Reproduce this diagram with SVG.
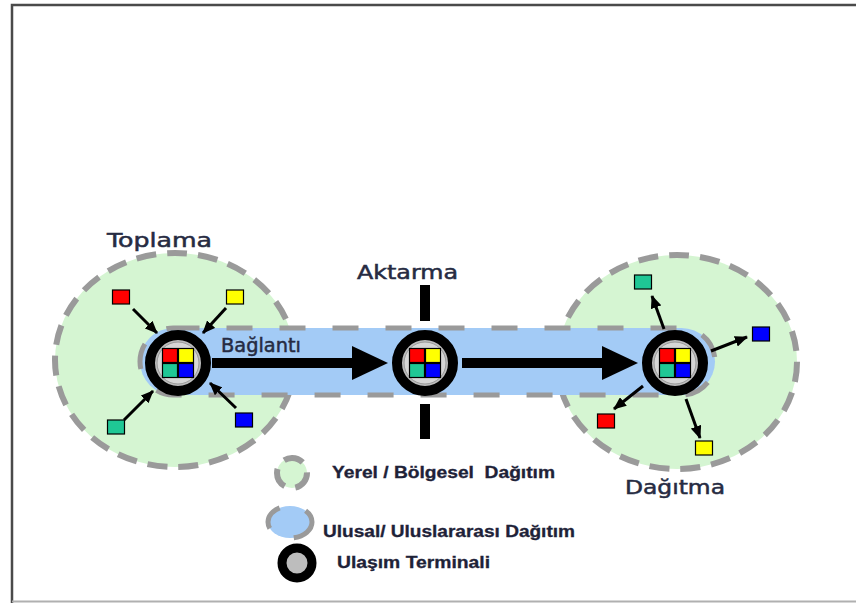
<svg xmlns="http://www.w3.org/2000/svg" width="856" height="603" viewBox="0 0 856 603">
<defs>
<style>
.zone{fill:#d5f5d2;stroke:#9a9a9a;stroke-width:6;stroke-dasharray:20 11}
.band{fill:#a3cbf6;stroke:#9a9a9a;stroke-width:5;stroke-dasharray:26 27}
.ring{fill:#bdbdbd;stroke:#000;stroke-width:10}
.sq{stroke:#000;stroke-width:1.2}
.r{fill:#ff0000}.y{fill:#ffff00}.t{fill:#1fc795}.b{fill:#0000ff}
.big{stroke:#000;stroke-width:10;fill:none;marker-end:url(#bigHead)}
.small{stroke:#000;stroke-width:3;fill:none;marker-end:url(#smallHead)}
.lbl{font-family:"DejaVu Sans",sans-serif;font-size:19px;fill:#262b42;stroke:#262b42;stroke-width:0.5}
.leg{font-family:"Liberation Sans",Arial,sans-serif;font-size:16px;font-weight:bold;fill:#1e2238;stroke:#1e2238;stroke-width:0.3}
</style>
<marker id="bigHead" viewBox="0 0 36 34" refX="0" refY="17" markerWidth="36" markerHeight="34" markerUnits="userSpaceOnUse" orient="auto">
<path d="M0,0 L36,17 L0,34 z" fill="#000"/>
</marker>
<marker id="smallHead" viewBox="0 0 13 11" refX="12" refY="5.5" markerWidth="13" markerHeight="11" markerUnits="userSpaceOnUse" orient="auto">
<path d="M0,0 L13,5.5 L0,11 z" fill="#000"/>
</marker>
<g id="term">
<circle cx="0" cy="0" r="28" class="ring"/>
<circle cx="0" cy="0" r="21" fill="#d6d6d6" stroke="#999" stroke-width="1"/>
<rect x="-15.5" y="-14.5" width="15" height="14" class="sq r"/>
<rect x="0.5" y="-14.5" width="15" height="14" class="sq y"/>
<rect x="-15.5" y="0.5" width="15" height="14" class="sq t"/>
<rect x="0.5" y="0.5" width="15" height="14" class="sq b"/>
</g>
</defs>
<rect width="856" height="603" fill="#fff"/>
<g id="frame" fill="none">
<path d="M12,603 L12,5 L856,5" stroke="#4a4a4a" stroke-width="2.5"/>
<path d="M12,601.5 L856,601.5" stroke="#b0b0b0" stroke-width="2"/>
</g>
<g id="zones">
<ellipse id="zone-toplama" cx="175" cy="360" rx="120" ry="107" class="zone"/>
<ellipse id="zone-dagitma" cx="677" cy="362" rx="120" ry="107" class="zone"/>
<rect id="band" x="140" y="328" width="575" height="67" rx="33.5" class="band"/>
</g>
<g id="bars" fill="#000">
<rect x="420" y="285" width="10" height="36"/>
<rect x="420" y="404" width="10" height="35"/>
</g>
<g id="connectors">
<line x1="212" y1="363" x2="352" y2="363" class="big"/>
<line x1="462" y1="363" x2="602" y2="363" class="big"/>
<line x1="133" y1="309" x2="157" y2="333" class="small"/>
<line x1="226" y1="308" x2="203" y2="333" class="small"/>
<line x1="124" y1="420" x2="153" y2="391" class="small"/>
<line x1="236" y1="408" x2="210" y2="383" class="small"/>
<line x1="664" y1="329" x2="652" y2="296" class="small"/>
<line x1="711" y1="351" x2="747" y2="337" class="small"/>
<line x1="643" y1="386" x2="614" y2="409" class="small"/>
<line x1="686" y1="399" x2="700" y2="438" class="small"/>
</g>
<g id="terminal-toplama"><use href="#term" x="178" y="363"/></g>
<g id="terminal-aktarma"><use href="#term" x="425" y="363"/></g>
<g id="terminal-dagitma"><use href="#term" x="675" y="363"/></g>
<g id="sources">
<rect x="112.5" y="290" width="17" height="14" class="sq r"/>
<rect x="226.5" y="290" width="17" height="14" class="sq y"/>
<rect x="107.5" y="420" width="17" height="14" class="sq t"/>
<rect x="235.5" y="413" width="17" height="14" class="sq b"/>
</g>
<g id="destinations">
<rect x="634.5" y="275" width="17" height="14" class="sq t"/>
<rect x="752.5" y="327" width="17" height="14" class="sq b"/>
<rect x="597.5" y="414" width="17" height="14" class="sq r"/>
<rect x="695.5" y="441" width="17" height="14" class="sq y"/>
</g>
<g id="labels">
<text x="107" y="247" class="lbl" textLength="105" lengthAdjust="spacingAndGlyphs">Toplama</text>
<text x="357" y="279" class="lbl" textLength="101" lengthAdjust="spacingAndGlyphs">Aktarma</text>
<text x="221" y="352" class="lbl" textLength="80" lengthAdjust="spacingAndGlyphs">Bağlantı</text>
<text x="625" y="494" class="lbl" textLength="100" lengthAdjust="spacingAndGlyphs">Dağıtma</text>
</g>
<g id="legend">
<circle cx="292" cy="473" r="15" class="zone" stroke-width="5" stroke-dasharray="12 6"/>
<ellipse cx="290" cy="522" rx="22" ry="16" class="band" stroke-width="5" stroke-dasharray="14 7"/>
<circle cx="297" cy="563" r="15" fill="#bdbdbd" stroke="#000" stroke-width="9"/>
<text x="332" y="478" class="leg" textLength="223" lengthAdjust="spacingAndGlyphs">Yerel / Bölgesel&#160; Dağıtım</text>
<text x="323" y="537" class="leg" textLength="252" lengthAdjust="spacingAndGlyphs">Ulusal/ Uluslararası Dağıtım</text>
<text x="337" y="568" class="leg" textLength="153" lengthAdjust="spacingAndGlyphs">Ulaşım Terminali</text>
</g>
</svg>
